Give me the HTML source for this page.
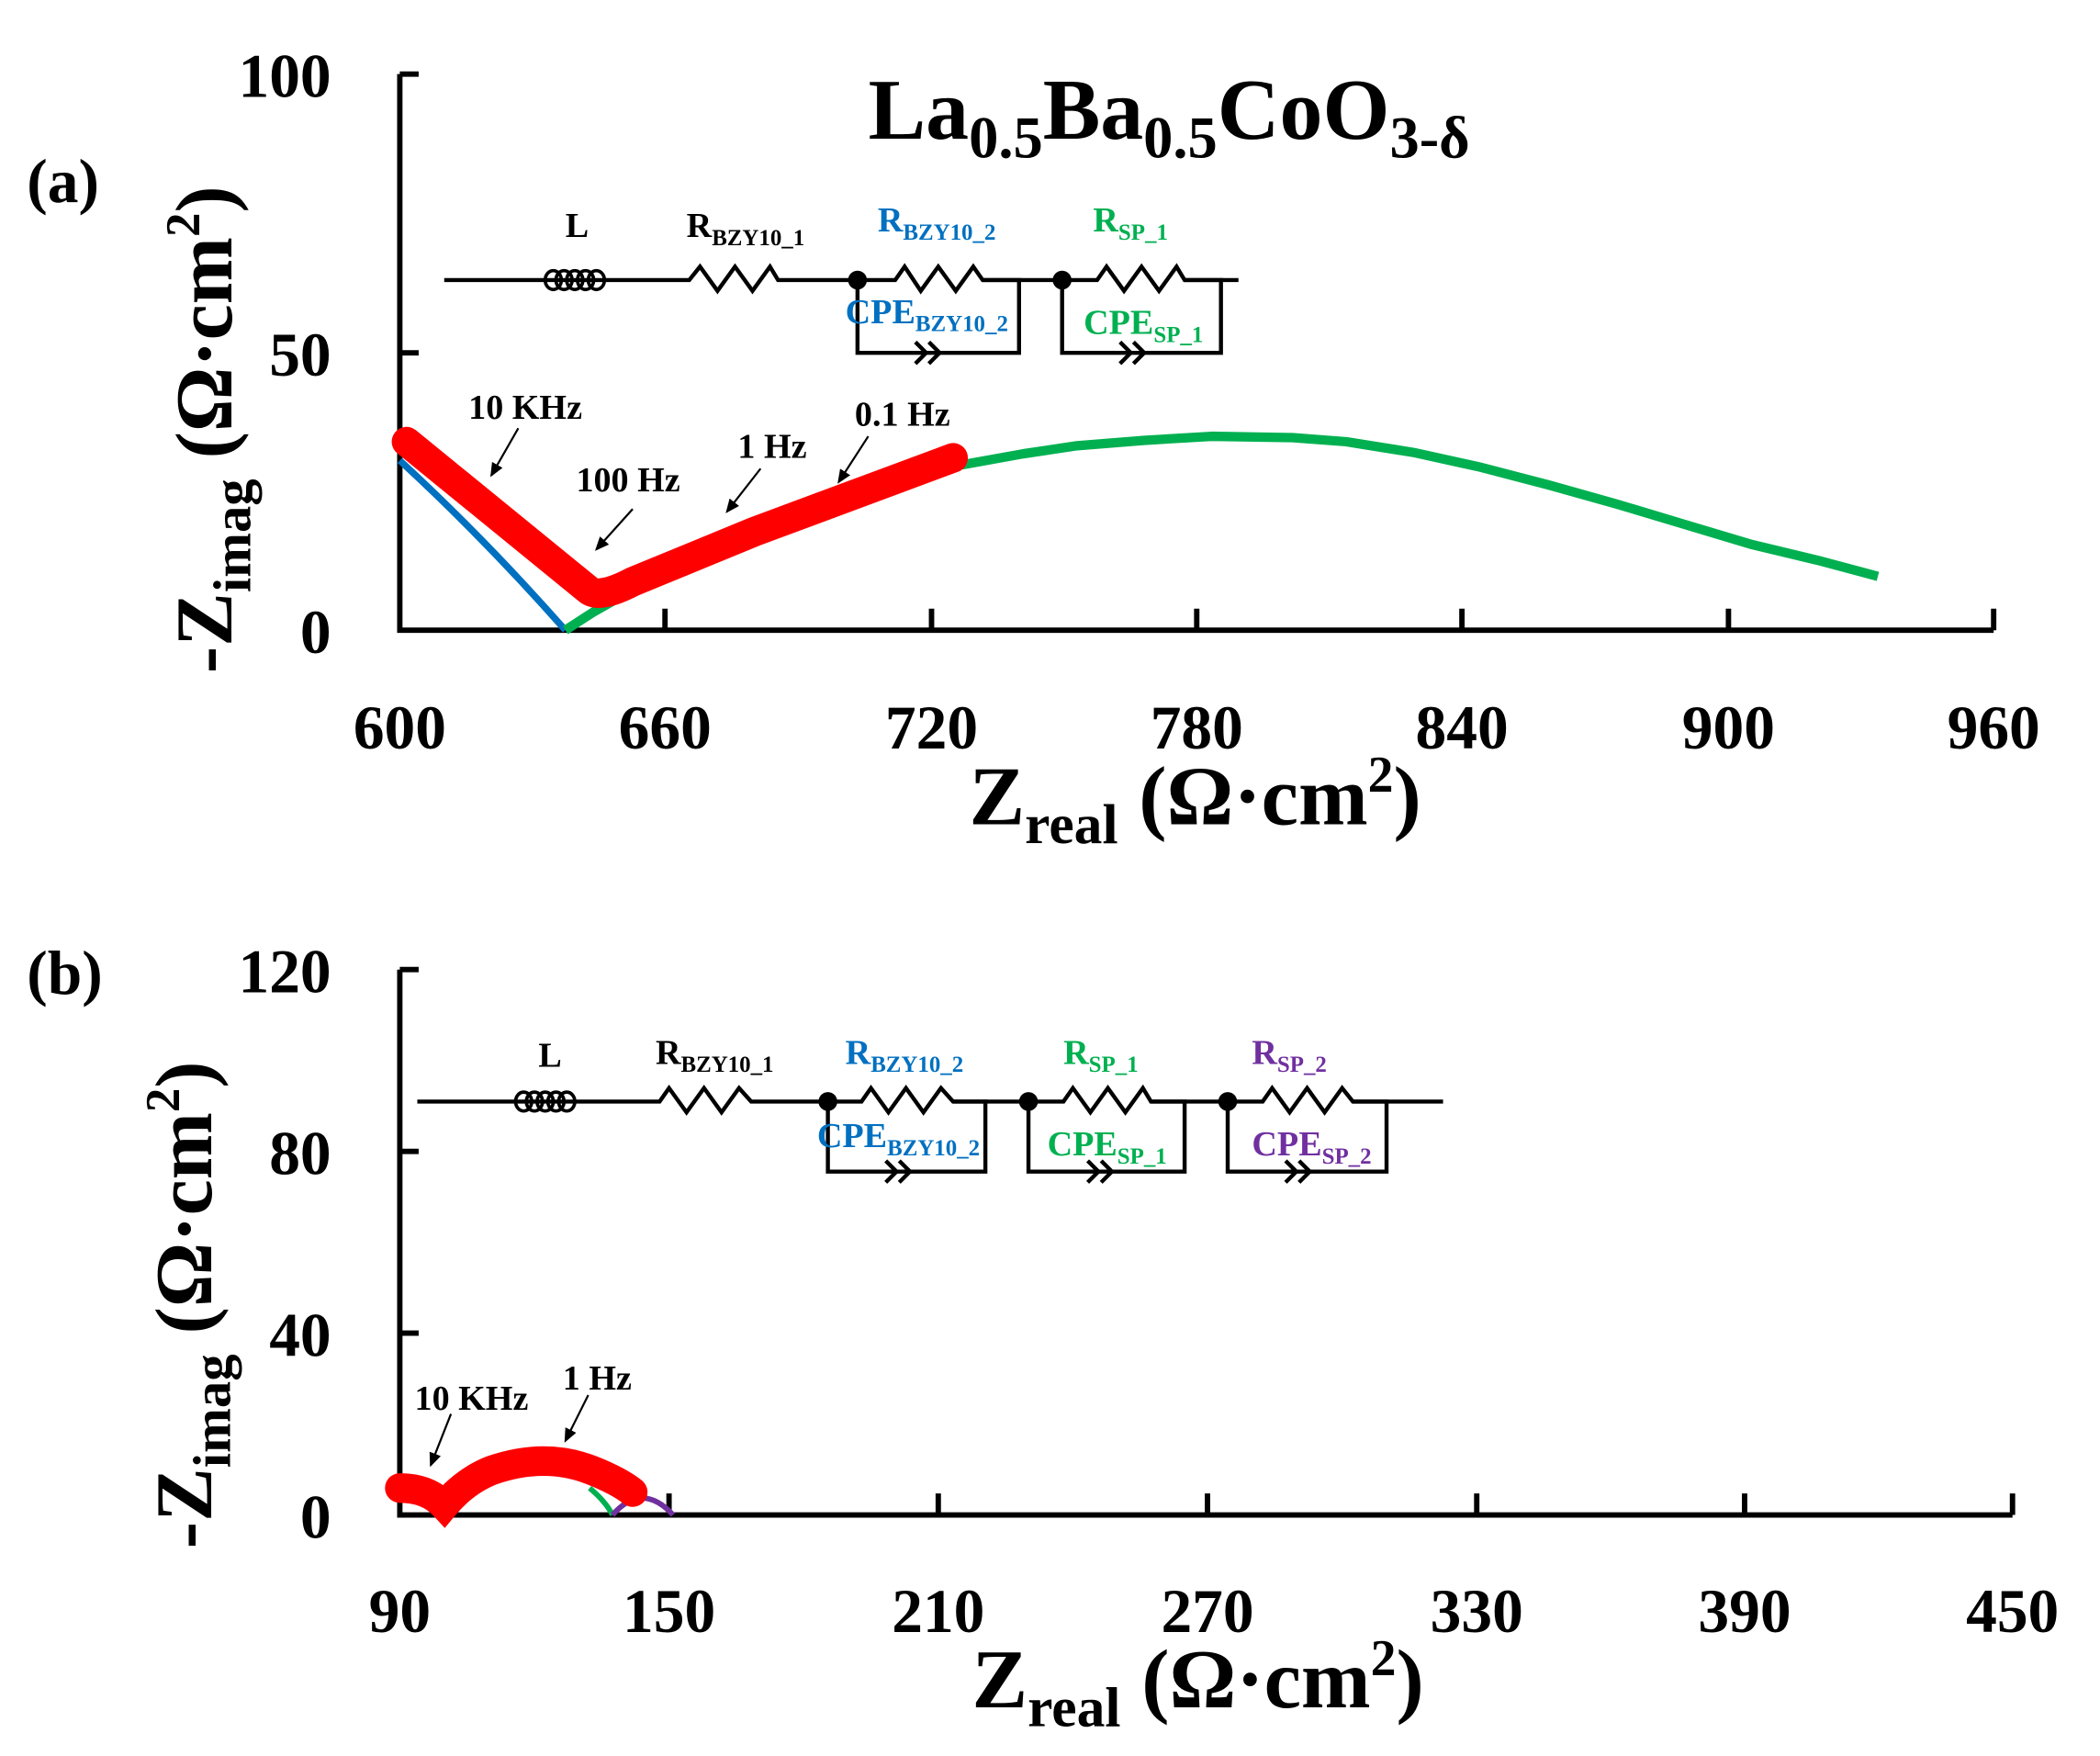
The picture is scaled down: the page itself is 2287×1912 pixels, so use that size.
<!DOCTYPE html>
<html><head><meta charset="utf-8"><style>
html,body{margin:0;padding:0;background:#fff;}
svg{display:block;}
text{font-family:"Liberation Serif",serif;font-weight:bold;}
</style></head><body>
<svg width="2287" height="1912" viewBox="0 0 1560 1304" preserveAspectRatio="none" xmlns="http://www.w3.org/2000/svg">
<defs>
<marker id="ar" markerWidth="8" markerHeight="8" refX="6" refY="4" orient="auto"><path d="M0,1 L7,4 L0,7 Z" fill="#000"/></marker>
</defs>
<!-- Panel a -->
<text x="20" y="150" font-size="46">(a)</text>
<text x="645" y="103" font-size="64">La<tspan font-size="44" dy="14">0.5</tspan><tspan dy="-14">Ba</tspan><tspan font-size="44" dy="14">0.5</tspan><tspan dy="-14">CoO</tspan><tspan font-size="44" dy="14">3-δ</tspan></text>
<g stroke="#000" stroke-width="4" fill="none">
<path d="M297,55 V468 H1481"/>
<path d="M297,55 h14 M297,262 h14"/>
<path d="M494,468 v-16 M692,468 v-16 M889,468 v-16 M1086,468 v-16 M1284,468 v-16 M1481,468 v-16"/>
</g>
<g font-size="46" text-anchor="end">
<text x="246" y="72">100</text><text x="246" y="279">50</text><text x="246" y="485">0</text>
</g>
<g font-size="46" text-anchor="middle">
<text x="297" y="556">600</text><text x="494" y="556">660</text><text x="692" y="556">720</text><text x="889" y="556">780</text><text x="1086" y="556">840</text><text x="1284" y="556">900</text><text x="1481" y="556">960</text>
</g>
<text x="720" y="612" font-size="62">Z<tspan font-size="42" dy="14">real</tspan><tspan dy="-14"> (Ω·cm</tspan><tspan font-size="38" dy="-24">2</tspan><tspan dy="24">)</tspan></text>
<text transform="translate(172,500) rotate(-90)" font-size="60">-Z<tspan font-size="40" dy="14">imag</tspan><tspan dy="-14"> (Ω·cm</tspan><tspan font-size="36" dy="-24">2</tspan><tspan dy="24">)</tspan></text>
<!-- curves a -->
<path d="M297,342 Q360,400 420,468" stroke="#0070c0" stroke-width="5" fill="none"/>
<polyline points="420,468 440,455 470,438 500,425 550,405 600,385 650,366 710,346 760,337 800,331 850,327 900,324 960,325 1000,328 1050,336 1100,347 1150,360 1200,374 1250,389 1300,404 1350,416 1395,428" stroke="#00b050" stroke-width="7" fill="none" stroke-linejoin="round"/>
<path d="M302,328 L437,438 Q445,445 470,432 L560,395 Q640,365 708,340" stroke="#ff0000" stroke-width="22" stroke-linecap="round" fill="none"/>
<!-- freq labels a -->
<g font-size="26">
<text x="348" y="311">10 KHz</text><text x="428" y="365">100 Hz</text><text x="548" y="340">1 Hz</text><text x="635" y="316">0.1 Hz</text>
</g>
<g stroke="#000" stroke-width="1.5" marker-end="url(#ar)">
<line x1="385" y1="318" x2="365" y2="353"/><line x1="470" y1="378" x2="443" y2="408"/><line x1="565" y1="348" x2="540" y2="380"/><line x1="645" y1="324" x2="623" y2="358"/>
</g>
<!-- circuit a -->
<g stroke="#000" stroke-width="3" fill="none">
<path d="M330,208 H512 L520,198 L533,216 L546,198 L559,216 L572,198 L578,208 H665 L672,198 L684,216 L697,198 L710,216 L723,198 L730,208 H815 L822,198 L835,216 L848,198 L861,216 L874,198 L880,208 H920"/>
<path d="M730,208 H757 V262 H637 V208 M880,208 H907 V262 H789 V208"/>
<path d="M680,254 l8,8 l-8,8 M690,254 l8,8 l-8,8 M832,254 l8,8 l-8,8 M842,254 l8,8 l-8,8"/>
<g stroke-width="2.5"><ellipse cx="411" cy="208" rx="6" ry="7"/><ellipse cx="419" cy="208" rx="6" ry="7"/><ellipse cx="427" cy="208" rx="6" ry="7"/><ellipse cx="435" cy="208" rx="6" ry="7"/><ellipse cx="443" cy="208" rx="6" ry="7"/></g>
</g>
<circle cx="637" cy="208" r="7"/><circle cx="789" cy="208" r="7"/>
<g font-size="26">
<text x="420" y="176">L</text>
<text x="510" y="176">R<tspan font-size="17" dy="6">BZY10_1</tspan></text>
<text x="652" y="172" fill="#0070c0">R<tspan font-size="17" dy="6">BZY10_2</tspan></text>
<text x="812" y="172" fill="#00b050">R<tspan font-size="17" dy="6">SP_1</tspan></text>
<text x="628" y="240" fill="#0070c0">CPE<tspan font-size="17" dy="6">BZY10_2</tspan></text>
<text x="805" y="248" fill="#00b050">CPE<tspan font-size="17" dy="6">SP_1</tspan></text>
</g>

<!-- Panel b -->
<text x="20" y="738" font-size="46">(b)</text>
<g stroke="#000" stroke-width="4" fill="none">
<path d="M297,720 V1125 H1495"/>
<path d="M297,720 h14 M297,855 h14 M297,990 h14"/>
<path d="M497,1125 v-16 M697,1125 v-16 M897,1125 v-16 M1097,1125 v-16 M1296,1125 v-16 M1495,1125 v-16"/>
</g>
<g font-size="46" text-anchor="end">
<text x="246" y="737">120</text><text x="246" y="872">80</text><text x="246" y="1007">40</text><text x="246" y="1142">0</text>
</g>
<g font-size="46" text-anchor="middle">
<text x="297" y="1212">90</text><text x="497" y="1212">150</text><text x="697" y="1212">210</text><text x="897" y="1212">270</text><text x="1097" y="1212">330</text><text x="1296" y="1212">390</text><text x="1495" y="1212">450</text>
</g>
<text x="722" y="1268" font-size="62">Z<tspan font-size="42" dy="14">real</tspan><tspan dy="-14"> (Ω·cm</tspan><tspan font-size="38" dy="-24">2</tspan><tspan dy="24">)</tspan></text>
<text transform="translate(157,1150) rotate(-90)" font-size="60">-Z<tspan font-size="40" dy="14">imag</tspan><tspan dy="-14"> (Ω·cm</tspan><tspan font-size="36" dy="-24">2</tspan><tspan dy="24">)</tspan></text>
<!-- curves b -->
<path d="M438,1105 Q450,1115 455,1125" stroke="#00b050" stroke-width="4" fill="none"/>
<path d="M455,1125 Q477,1100 500,1125" stroke="#7030a0" stroke-width="4" fill="none"/>
<path d="M297,1105 Q318,1105 330,1118 Q345,1100 365,1092 Q405,1078 440,1092 Q460,1100 470,1108" stroke="#ff0000" stroke-width="22" stroke-linecap="round" fill="none"/>
<g font-size="26">
<text x="308" y="1047">10 KHz</text><text x="418" y="1032">1 Hz</text>
</g>
<g stroke="#000" stroke-width="1.5" marker-end="url(#ar)">
<line x1="335" y1="1050" x2="320" y2="1088"/><line x1="437" y1="1036" x2="420" y2="1070"/>
</g>
<!-- circuit b -->
<g stroke="#000" stroke-width="3" fill="none">
<path d="M310,818 H490 L497,808 L510,826 L523,808 L536,826 L549,808 L558,818 H640 L647,808 L660,826 L673,808 L686,826 L699,808 L708,818 H790 L797,808 L810,826 L823,808 L836,826 L849,808 L855,818 H938 L945,808 L958,826 L971,808 L984,826 L997,808 L1005,818 H1072"/>
<path d="M708,818 H732 V870 H615 V818 M855,818 H880 V870 H764 V818 M1005,818 H1030 V870 H912 V818"/>
<path d="M658,862 l8,8 l-8,8 M668,862 l8,8 l-8,8 M808,862 l8,8 l-8,8 M818,862 l8,8 l-8,8 M955,862 l8,8 l-8,8 M965,862 l8,8 l-8,8"/>
<g stroke-width="2.5"><ellipse cx="389" cy="818" rx="6" ry="7"/><ellipse cx="397" cy="818" rx="6" ry="7"/><ellipse cx="405" cy="818" rx="6" ry="7"/><ellipse cx="413" cy="818" rx="6" ry="7"/><ellipse cx="421" cy="818" rx="6" ry="7"/></g>
</g>
<circle cx="615" cy="818" r="7"/><circle cx="764" cy="818" r="7"/><circle cx="912" cy="818" r="7"/>
<g font-size="26">
<text x="400" y="792">L</text>
<text x="487" y="790">R<tspan font-size="17" dy="6">BZY10_1</tspan></text>
<text x="628" y="790" fill="#0070c0">R<tspan font-size="17" dy="6">BZY10_2</tspan></text>
<text x="790" y="790" fill="#00b050">R<tspan font-size="17" dy="6">SP_1</tspan></text>
<text x="930" y="790" fill="#7030a0">R<tspan font-size="17" dy="6">SP_2</tspan></text>
<text x="607" y="852" fill="#0070c0">CPE<tspan font-size="17" dy="6">BZY10_2</tspan></text>
<text x="778" y="858" fill="#00b050">CPE<tspan font-size="17" dy="6">SP_1</tspan></text>
<text x="930" y="858" fill="#7030a0">CPE<tspan font-size="17" dy="6">SP_2</tspan></text>
</g>
</svg>
</body></html>
